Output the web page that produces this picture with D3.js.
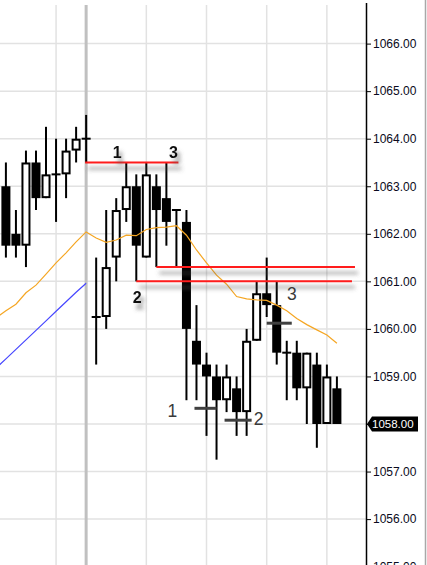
<!DOCTYPE html>
<html><head><meta charset="utf-8">
<script src="https://cdn.jsdelivr.net/npm/d3@7"></script>
<style>html,body{margin:0;padding:0;background:#fff;overflow:hidden}</style>
</head><body>
<script>
// ---- data ----
const opens  = [1063.0,1062.0,1061.75,1063.5,1062.75,1063.25,1063.25,1063.75,1064.0,1060.25,1060.25,1061.5,1062.5,1063.0,1061.5,1063.0,1062.75,1062.5,1062.25,1059.75,1059.25,1059.0,1058.5,1058.75,1058.25,1059.75,1060.75,1060.5,1059.5,1059.5,1058.75,1059.25,1058.0,1058.75];
const highs  = [1063.5,1062.5,1063.75,1063.75,1064.25,1064.0,1064.0,1064.25,1064.5,1061.5,1062.5,1062.75,1063.5,1063.25,1063.5,1063.25,1063.5,1062.5,1062.5,1060.5,1059.5,1059.25,1059.25,1059.0,1060.0,1061.0,1061.5,1061.0,1059.75,1059.75,1059.5,1059.5,1059.25,1059.0];
const lows   = [1061.5,1061.5,1061.3,1062.5,1062.75,1062.25,1062.75,1063.5,1063.5,1059.25,1060.0,1061.0,1062.25,1061.0,1061.5,1061.3,1061.75,1061.3,1058.5,1058.5,1057.75,1057.25,1058.25,1057.75,1057.75,1059.75,1060.25,1059.25,1058.5,1058.5,1058.0,1057.5,1058.0,1058.0];
const closes = [1061.75,1061.75,1063.5,1062.75,1063.25,1063.25,1063.75,1064.0,1064.0,1060.25,1061.3,1062.5,1063.0,1061.75,1063.25,1062.5,1062.25,1062.5,1060.0,1059.25,1059.0,1058.5,1059.0,1058.25,1059.75,1060.75,1060.5,1059.5,1059.5,1058.75,1059.5,1058.0,1059.0,1058.0];
// orange average, one value per bar from bar -1 to bar 33
const orangeMA = [1060.23,1060.38,1060.52,1060.76,1060.92,1061.15,1061.39,1061.60,1061.83,1062.04,1061.91,1061.82,1061.87,1061.97,1061.96,1062.09,1062.13,1062.14,1062.17,1061.97,1061.66,1061.39,1061.13,1060.94,1060.68,1060.63,1060.61,1060.60,1060.50,1060.38,1060.22,1060.09,1059.98,1059.87,1059.70];
// blue line, bars -1 .. 8
const blueMA = [1059.17,1059.37,1059.57,1059.77,1059.97,1060.17,1060.37,1060.57,1060.77,1060.96];
const tickPrices = [1055,1056,1057,1058,1059,1060,1061,1062,1063,1064,1065,1066];
const gridBars = [5,14,20,26,32];
const sessionBar = 8;
const lastPrice = 1058.00;
// drawn annotations: level lines (from bar, to bar, price)
const redLevels = [[7.9,17.2,1063.5],[13,34.5,1061.0],[15,34.8,1061.3]];
const grayMarks = [[18.8,21.0,1058.33],[21.8,24.5,1058.08],[26.0,28.5,1060.12]];
const boldLabels = [["1",11.1,1063.72],["3",16.7,1063.72],["2",13.1,1060.67]];
const plainLabels = [["1",16.6,1058.27],["2",25.2,1058.12],["3",28.5,1060.73]];

// ---- layout ----
const W = 427, H = 565, axisX = 366, plotTop = 5;
const svg = d3.select("body").append("svg").attr("width", W).attr("height", H)
  .style("font-family", "'Liberation Sans', Arial, sans-serif");

const x = d3.scaleLinear().domain([0, 33]).range([5.9, 336.9]);
const y = d3.scaleLinear().domain([1058, 1066]).range([424, 43.6]);

const defs = svg.append("defs");
defs.append("clipPath").attr("id", "plot").append("rect")
  .attr("x", 0).attr("y", plotTop).attr("width", axisX).attr("height", H - plotTop);
const f = defs.append("filter").attr("id", "shadow").attr("filterUnits", "userSpaceOnUse")
  .attr("x", 0).attr("y", 0).attr("width", W).attr("height", H);
f.append("feDropShadow").attr("dx", 3).attr("dy", 6).attr("stdDeviation", 2.2)
  .attr("flood-color", "#555").attr("flood-opacity", 0.7);

const g = svg.append("g").attr("clip-path", "url(#plot)");

// gridlines
g.selectAll(".hg").data(tickPrices).join("line")
  .attr("x1", 0).attr("x2", axisX).attr("y1", d => y(d)).attr("y2", d => y(d))
  .attr("stroke", "#e2e2e2").attr("stroke-width", 1.5);
g.selectAll(".vg").data(gridBars).join("line")
  .attr("x1", d => x(d)).attr("x2", d => x(d)).attr("y1", plotTop).attr("y2", H)
  .attr("stroke", "#e2e2e2").attr("stroke-width", 1.5);
g.append("line").attr("x1", x(sessionBar)).attr("x2", x(sessionBar))
  .attr("y1", plotTop).attr("y2", H).attr("stroke", "#c0c0c0").attr("stroke-width", 3);

// candles
const idx = d3.range(opens.length);
const bw = 9;
const cg = g.append("g");
cg.selectAll(".wick").data(idx).join("line")
  .attr("x1", i => x(i)).attr("x2", i => x(i))
  .attr("y1", i => y(highs[i])).attr("y2", i => y(lows[i]))
  .attr("stroke", "#000").attr("stroke-width", 2);
idx.forEach(i => {
  const o = opens[i], c = closes[i];
  if (o === c) {
    cg.append("line").attr("x1", x(i) - bw / 2).attr("x2", x(i) + bw / 2)
      .attr("y1", y(o)).attr("y2", y(o)).attr("stroke", "#000").attr("stroke-width", 2);
  } else if (c < o) {
    cg.append("rect").attr("x", x(i) - bw / 2).attr("width", bw)
      .attr("y", y(o)).attr("height", y(c) - y(o)).attr("fill", "#000");
  } else {
    cg.append("rect").attr("x", x(i) - bw / 2 + 1).attr("width", bw - 2)
      .attr("y", y(c) + 1).attr("height", y(o) - y(c) - 2)
      .attr("fill", "#fff").attr("stroke", "#000").attr("stroke-width", 2);
  }
});

// moving averages
const line = d3.line().x(d => x(d[0])).y(d => y(d[1]));
g.append("path").datum(orangeMA.map((v, k) => [k - 1, v])).attr("d", line)
  .attr("fill", "none").attr("stroke", "#f5a623").attr("stroke-width", 1.2);
g.append("path").datum(blueMA.map((v, k) => [k - 1, v])).attr("d", line)
  .attr("fill", "none").attr("stroke", "#4646ff").attr("stroke-width", 1.2);

// red level lines
g.selectAll(".red").data(redLevels).join("line")
  .attr("x1", d => x(d[0])).attr("x2", d => x(d[1]))
  .attr("y1", d => y(d[2])).attr("y2", d => y(d[2]))
  .attr("stroke", "#ff1a1a").attr("stroke-width", 2).attr("filter", "url(#shadow)");

// gray markers
g.selectAll(".gm").data(grayMarks).join("line")
  .attr("x1", d => x(d[0])).attr("x2", d => x(d[1]))
  .attr("y1", d => y(d[2])).attr("y2", d => y(d[2]))
  .attr("stroke", "#404040").attr("stroke-width", 3);

// labels
g.selectAll(".bl").data(boldLabels).join("text")
  .attr("x", d => x(d[1])).attr("y", d => y(d[2]) + 6)
  .attr("text-anchor", "middle").attr("font-size", 16).attr("font-weight", "bold")
  .attr("fill", "#111").attr("filter", "url(#shadow)").text(d => d[0]);
g.selectAll(".pl").data(plainLabels).join("text")
  .attr("x", d => x(d[1])).attr("y", d => y(d[2]) + 6.3)
  .attr("text-anchor", "middle").attr("font-size", 17.5)
  .attr("fill", "#3a3a3a").text(d => d[0]);

// axis (the label at the last price is covered by the price tag)
const ax = svg.append("g").attr("transform", `translate(${axisX},0)`)
  .call(d3.axisRight(y).tickValues(tickPrices)
    .tickFormat(d => d === lastPrice ? "" : d.toFixed(2))
    .tickSize(5).tickPadding(2));
ax.select(".domain").remove();
ax.selectAll(".tick line").attr("stroke", "#000");
ax.selectAll(".tick text").attr("font-size", 12).attr("fill", "#0a0a20")
  .attr("font-family", "'Liberation Sans', Arial, sans-serif");
svg.append("line").attr("x1", axisX + 0.5).attr("x2", axisX + 0.5)
  .attr("y1", 3).attr("y2", H).attr("stroke", "#000").attr("stroke-width", 1.5);
svg.append("line").attr("x1", 425.5).attr("x2", 425.5).attr("y1", 0).attr("y2", H)
  .attr("stroke", "#a8a8a8").attr("stroke-width", 1.5);

// last price tag
const ly = y(lastPrice);
svg.append("path")
  .attr("d", `M${axisX + 1},${ly} L${axisX + 6},${ly - 7.5} L${418},${ly - 7.5} L${418},${ly + 7.5} L${axisX + 6},${ly + 7.5} Z`)
  .attr("fill", "#000");
svg.append("text").attr("x", 372).attr("y", ly + 4.2).attr("font-size", 11.5)
  .attr("fill", "#fff").text(lastPrice.toFixed(2));
</script>
</body></html>
